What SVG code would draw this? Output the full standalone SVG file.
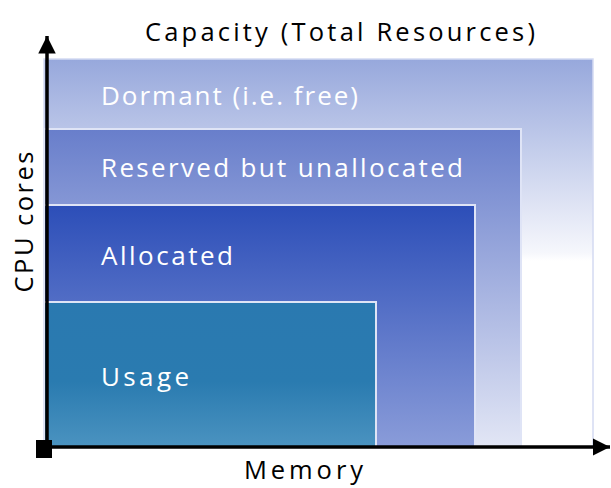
<svg xmlns="http://www.w3.org/2000/svg" width="611" height="488" viewBox="0 0 611 488">
<defs>
<linearGradient id="gCap" x1="0" y1="0" x2="0" y2="1">
<stop offset="0" stop-color="#97a8dc"/>
<stop offset="0.5" stop-color="#f6f7fc"/>
<stop offset="0.52" stop-color="#ffffff"/>
<stop offset="1" stop-color="#ffffff"/>
</linearGradient>
<linearGradient id="gRes" x1="0" y1="0" x2="0" y2="1">
<stop offset="0" stop-color="#687ecb"/>
<stop offset="1" stop-color="#e2e6f5"/>
</linearGradient>
<linearGradient id="gAll" x1="0" y1="0" x2="0" y2="1">
<stop offset="0" stop-color="#2c4eb8"/>
<stop offset="1" stop-color="#8a9cd9"/>
</linearGradient>
<linearGradient id="gUse" x1="0" y1="0" x2="0" y2="1">
<stop offset="0" stop-color="#2a79b0"/>
<stop offset="0.55" stop-color="#2a7bb0"/>
<stop offset="1" stop-color="#4b93c0"/>
</linearGradient>
<marker id="arr" viewBox="0 0 10 10" refX="10" refY="5" markerWidth="5" markerHeight="5" orient="auto" markerUnits="strokeWidth">
<path d="M0,0 L10,5 L0,10 z" fill="#000"/>
</marker>
</defs>
<style>
.lbl{font-family:"Open Sans","Liberation Sans",sans-serif;font-size:26px;fill:#ffffff}
.ax{font-family:"Open Sans","Liberation Sans",sans-serif;font-size:25.5px;fill:#000000}
.box{stroke:#dfe4f6;stroke-width:2}
</style>
<g id="capacity">
<rect x="44" y="59" width="549" height="388" fill="url(#gCap)" stroke="#d4daf2" stroke-width="1.5"/>
<text class="lbl" x="101" y="105" textLength="257" lengthAdjust="spacing">Dormant (i.e. free)</text>
</g>
<g id="reserved">
<rect class="box" x="44" y="129" width="477" height="318" fill="url(#gRes)"/>
<text class="lbl" x="101" y="177" textLength="362" lengthAdjust="spacing">Reserved but unallocated</text>
</g>
<g id="allocated">
<rect class="box" x="44" y="205" width="431" height="242" fill="url(#gAll)"/>
<text class="lbl" x="101" y="265" textLength="132" lengthAdjust="spacing">Allocated</text>
</g>
<g id="usage">
<rect class="box" x="44" y="302" width="332" height="145" fill="url(#gUse)"/>
<text class="lbl" x="101" y="386" textLength="88" lengthAdjust="spacing">Usage</text>
</g>
<g id="axes">
<line x1="47" y1="447" x2="47" y2="36" stroke="#000" stroke-width="3.5" marker-end="url(#arr)"/>
<line x1="47" y1="447" x2="610" y2="447" stroke="#000" stroke-width="3.5" marker-end="url(#arr)"/>
<rect x="36" y="440" width="16" height="18" fill="#000"/>
</g>
<text class="ax" x="145" y="41" textLength="390" lengthAdjust="spacing">Capacity (Total Resources)</text>
<text class="ax" x="244" y="479" textLength="119" lengthAdjust="spacing">Memory</text>
<text class="ax" x="0" y="0" text-anchor="middle" textLength="141" lengthAdjust="spacing" transform="translate(33,222) rotate(-90)">CPU cores</text>
</svg>
